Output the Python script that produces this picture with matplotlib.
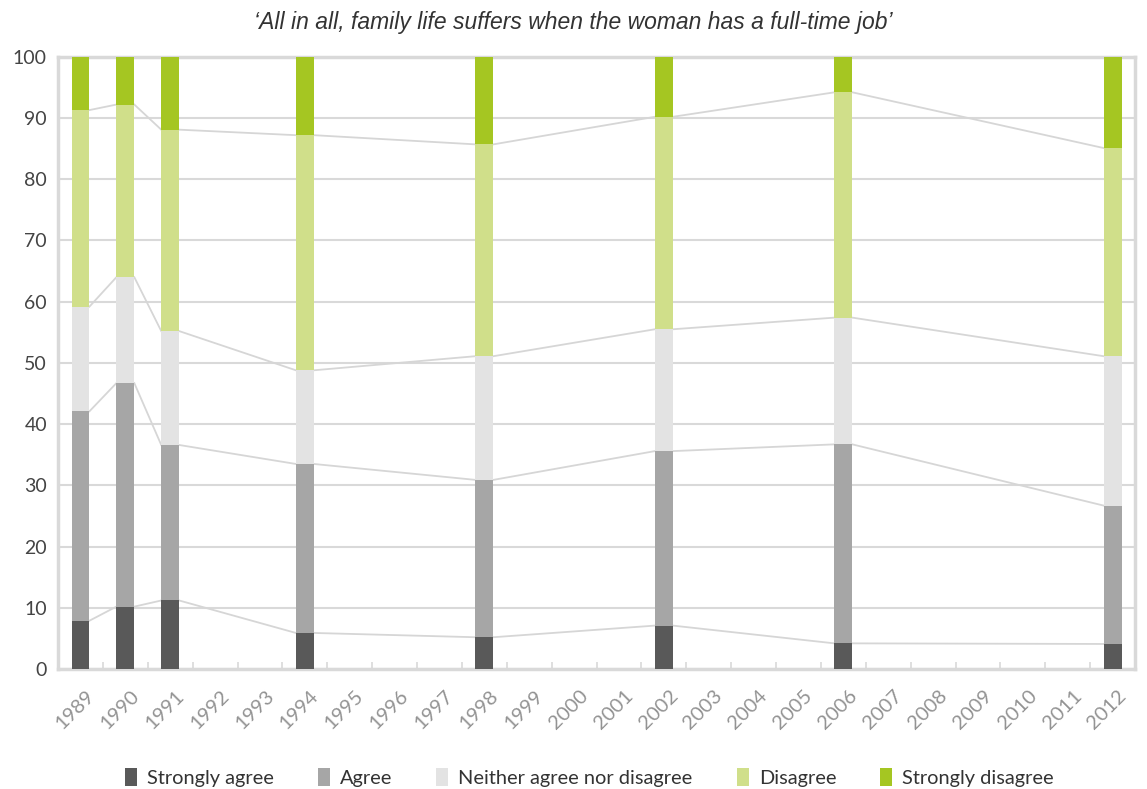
import matplotlib.pyplot as plt
import matplotlib.transforms as mtransforms
import numpy as np

# x axis covers every year, bars only where the survey ran
all_years = [str(y) for y in range(1989, 2013)]
survey_years = ["1989", "1990", "1991", "1994", "1998", "2002", "2006", "2012"]

strongly_agree = [7.9, 10.2, 11.2, 5.9, 5.2, 7.1, 4.2, 4.1]
agree = [34.2, 36.5, 25.4, 27.6, 25.7, 28.5, 32.5, 22.6]
neither = [17.1, 17.3, 18.6, 15.3, 20.2, 19.9, 20.7, 24.4]
disagree = [32.1, 28.2, 32.9, 38.4, 34.6, 34.7, 36.8, 34.0]
strongly_disagree = [8.7, 7.8, 11.9, 12.8, 14.3, 9.8, 5.8, 14.9]

series = [
    ("Strongly agree", strongly_agree, "#595959"),
    ("Agree", agree, "#a6a6a6"),
    ("Neither agree nor disagree", neither, "#e3e3e3"),
    ("Disagree", disagree, "#d0df8a"),
    ("Strongly disagree", strongly_disagree, "#a5c622"),
]

plt.rcParams["font.family"] = ["Lato", "DejaVu Sans"]

fig = plt.figure(figsize=(11.47, 7.89), dpi=100)
ax = fig.add_axes([0.0506, 0.152, 0.939, 0.776])

pos = np.array([all_years.index(y) for y in survey_years], dtype=float)
width = 0.4
grid_col = "#d9d9d9"

bottom = np.zeros(len(survey_years))
tops = []
for label, vals, col in series:
    vals = np.array(vals)
    ax.bar(pos, vals, width, bottom=bottom, color=col, label=label, zorder=3)
    bottom = bottom + vals
    tops.append(bottom.copy())

# connector lines between the bars at each cumulative boundary
for cum in tops[:-1]:
    for i in range(len(pos) - 1):
        ax.plot([pos[i] + width / 2, pos[i + 1] - width / 2], [cum[i], cum[i + 1]],
                color="#d6d6d6", linewidth=1.3, zorder=2)

ax.set_xlim(-0.5, len(all_years) - 0.5)
ax.set_ylim(0, 100)
ax.set_yticks(range(0, 101, 10))
ax.set_xticks(range(len(all_years)))
ax.set_xticklabels(all_years, rotation=45, ha="right", rotation_mode="anchor",
                   color="#939393", fontsize=14.5)
ax.tick_params(axis="x", length=0, pad=13)
# nudge the rotated year labels a little to the right, like the original
shift = mtransforms.ScaledTranslation(5 / 100, 0, fig.dpi_scale_trans)
for lbl in ax.get_xticklabels():
    lbl.set_transform(lbl.get_transform() + shift)
ax.set_xticks(np.arange(0.5, len(all_years) - 0.5, 1), minor=True)
ax.tick_params(axis="x", which="minor", direction="in", length=5, color=grid_col, width=1.2)
ax.tick_params(axis="y", length=0, labelsize=14, labelcolor="#444444", pad=8)

ax.grid(axis="y", color=grid_col, linewidth=1.5, zorder=0)
ax.set_axisbelow(True)
for sp in ax.spines.values():
    sp.set_color(grid_col)
    sp.set_linewidth(2.5)

fig.text(0.5, 0.972, "\u2018All in all, family life suffers when the woman has a full-time job\u2019",
         ha="center", va="center", fontsize=16.5, style="italic", color="#333333",
         family=["Liberation Sans", "DejaVu Sans"])

fig.legend(loc="center", bbox_to_anchor=(0.514, 0.015), ncol=5, frameon=False,
           fontsize=14.4, handlelength=0.6, handleheight=1.0, columnspacing=2.2,
           handletextpad=0.5, labelcolor="#333333")

fig.savefig("out.png", dpi=100)
